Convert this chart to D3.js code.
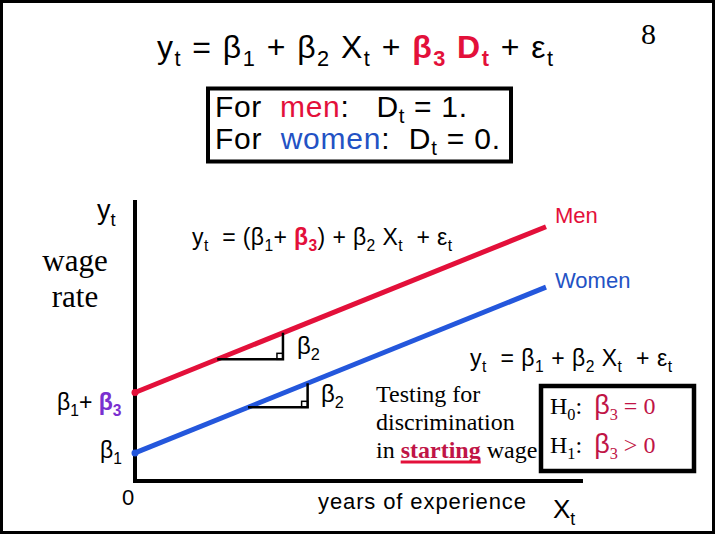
<!DOCTYPE html>
<html><head><meta charset="utf-8">
<script src="https://cdn.jsdelivr.net/npm/d3@7"></script>
<style>html,body{margin:0;padding:0;background:#fff;} svg{display:block;}</style>
</head><body>
<script>
// ---- data ----
const experience = [0, 10];            // X (years of experience) at the ends of the lines
const menWage = [3.15, 9.05];          // y at X=0 is β1+β3
const womenWage = [1.0, 6.9];          // y at X=0 is β1
const slopeMarks = [                   // slope triangles (β2)
  {series: "men", x0: 2.0, x1: 3.6},
  {series: "women", x0: 2.75, x1: 4.2}
];
const xDomain = [0, 10];
const yDomain = [0, 10];
const xAxisEnd = 10.9;
const yAxisEnd = 10;

const W = 720, H = 540;
const svg = d3.select("body").append("svg").attr("width", W).attr("height", H);
const x = d3.scaleLinear().domain(xDomain).range([135, 546]);
const y = d3.scaleLinear().domain(yDomain).range([481, 200]);

const SANS = "'Liberation Sans', Arial, sans-serif";
const SERIF = "'Liberation Serif', 'Times New Roman', serif";
const RED = "#e3103a", BLUE = "#2457dc", DARKRED = "#c01446", PURPLE = "#7a30d0", TBLUE = "#2352c4";

svg.append("rect").attr("x", 1.5).attr("y", 1.5).attr("width", 712).attr("height", 531)
  .attr("fill", "#fff").attr("stroke", "#000").attr("stroke-width", 3);

function rich(x0, y0, parts, base) {
  const t = svg.append("text").attr("x", x0).attr("y", y0)
    .attr("font-family", base.family).attr("font-size", base.size)
    .attr("fill", base.fill || "#000").attr("text-anchor", base.anchor || "start")
    .attr("xml:space", "preserve").style("white-space", "pre");
  let shift = 0;
  parts.forEach(p => {
    const o = typeof p === "string" ? {t: p} : p;
    const size = o.sub ? (o.subSize || base.size * 0.68) : (o.size || base.size);
    const target = o.sub ? base.size * (base.subShift || 0.25) : 0;
    const ts = t.append("tspan").text(o.t).attr("font-size", size);
    if (target !== shift) { ts.attr("dy", target - shift); shift = target; }
    if (o.fill) ts.attr("fill", o.fill);
    if (o.bold) ts.attr("font-weight", "bold");
    if (o.family) ts.attr("font-family", o.family);
  });
  if (base.length) t.attr("textLength", base.length).attr("lengthAdjust", "spacing");
  return t;
}

// ---- title ----
rich(157, 58, ["y", {t: "t", sub: true}, " = β", {t: "1", sub: true}, " + β", {t: "2", sub: true}, " X", {t: "t", sub: true}, " + ",
  {t: "β", bold: true, fill: RED}, {t: "3", sub: true, bold: true, fill: RED}, {t: " D", bold: true, fill: RED},
  {t: "t", sub: true, bold: true, fill: RED}, " + ε", {t: "t", sub: true}], {family: SANS, size: 32, length: 396});
svg.append("text").attr("x", 641).attr("y", 44).attr("font-family", SERIF).attr("font-size", 30).text("8");

// ---- dummy box ----
svg.append("rect").attr("x", 208).attr("y", 88.5).attr("width", 303).attr("height", 73)
  .attr("fill", "none").attr("stroke", "#000").attr("stroke-width", 4);
rich(215, 117, ["For  ", {t: "men", fill: RED}, ":   D", {t: "t", sub: true}, " = 1."], {family: SANS, size: 30, subShift: 0.2, length: 252});
rich(215, 149, ["For  ", {t: "women", fill: TBLUE}, ":  D", {t: "t", sub: true}, " = 0."], {family: SANS, size: 30, subShift: 0.2, length: 285});

// ---- axes ----
svg.append("line").attr("x1", x(0)).attr("x2", x(0)).attr("y1", y(0) + 2).attr("y2", y(yAxisEnd))
  .attr("stroke", "#000").attr("stroke-width", 4);
svg.append("line").attr("x1", x(0)).attr("x2", x(xAxisEnd)).attr("y1", y(0)).attr("y2", y(0))
  .attr("stroke", "#000").attr("stroke-width", 4);

rich(97, 219, ["y", {t: "t", sub: true}], {family: SANS, size: 27});
svg.append("text").attr("x", 75).attr("y", 271).attr("text-anchor", "middle").attr("font-family", SERIF).attr("font-size", 31).text("wage");
svg.append("text").attr("x", 75).attr("y", 307).attr("text-anchor", "middle").attr("font-family", SERIF).attr("font-size", 31).text("rate");
rich(57, 410, ["β", {t: "1", sub: true}, "+ ", {t: "β", bold: true, fill: PURPLE}, {t: "3", sub: true, bold: true, fill: PURPLE}], {family: SANS, size: 23});
rich(100, 458, ["β", {t: "1", sub: true}], {family: SANS, size: 23});
svg.append("text").attr("x", 122).attr("y", 505).attr("font-family", SANS).attr("font-size", 22).text("0");

// ---- lines ----
const series = {men: menWage, women: womenWage};
const colors = {men: RED, women: BLUE};
const line = d3.line().x(d => x(d[0])).y(d => y(d[1]));
Object.keys(series).forEach(k => {
  const pts = experience.map((e, i) => [e, series[k][i]]);
  svg.append("path").attr("d", line(pts)).attr("fill", "none").attr("stroke", colors[k]).attr("stroke-width", 5);
  svg.append("circle").attr("cx", x(pts[0][0])).attr("cy", y(pts[0][1])).attr("r", 3.5).attr("fill", colors[k]);
});
function valueAt(k, xv) {
  const v = series[k];
  return v[0] + (v[1] - v[0]) * (xv - experience[0]) / (experience[1] - experience[0]);
}
slopeMarks.forEach(m => {
  const ya = valueAt(m.series, m.x0), yb = valueAt(m.series, m.x1);
  svg.append("path")
    .attr("d", `M${x(m.x0)},${y(ya)}H${x(m.x1)}V${y(yb)}`)
    .attr("fill", "none").attr("stroke", "#000").attr("stroke-width", 2.5);
  svg.append("rect").attr("x", x(m.x1) - 6).attr("y", y(ya) - 6).attr("width", 6).attr("height", 6)
    .attr("fill", "none").attr("stroke", "#000").attr("stroke-width", 1.5);
});
rich(297, 354, ["β", {t: "2", sub: true}], {family: SANS, size: 24});
rich(321, 402, ["β", {t: "2", sub: true}], {family: SANS, size: 24});

// ---- labels ----
rich(192, 245, ["y", {t: "t", sub: true}, "  = (β", {t: "1", sub: true}, "+ ", {t: "β", bold: true, fill: RED}, {t: "3", sub: true, bold: true, fill: RED},
  ") + β", {t: "2", sub: true}, " X", {t: "t", sub: true}, "  + ε", {t: "t", sub: true}], {family: SANS, size: 23, length: 260});
svg.append("text").attr("x", 555).attr("y", 223).attr("font-family", SANS).attr("font-size", 22).attr("fill", RED).text("Men");
svg.append("text").attr("x", 555).attr("y", 288).attr("font-family", SANS).attr("font-size", 22).attr("fill", TBLUE).text("Women");

rich(470, 366, ["y", {t: "t", sub: true}, "  = β", {t: "1", sub: true}, " + β", {t: "2", sub: true}, " X", {t: "t", sub: true}, "  + ε", {t: "t", sub: true}], {family: SANS, size: 23, length: 202});

// ---- testing text ----
svg.append("text").attr("x", 376).attr("y", 402).attr("font-family", SERIF).attr("font-size", 24).text("Testing for");
svg.append("text").attr("x", 376).attr("y", 430).attr("font-family", SERIF).attr("font-size", 24).text("discrimination");
const tIn = svg.append("text").attr("x", 376).attr("y", 458).attr("font-family", SERIF).attr("font-size", 24)
  .style("white-space", "pre").text("in ");
const inW = tIn.node().getComputedTextLength();
const tSt = svg.append("text").attr("x", 376 + inW).attr("y", 458).attr("font-family", SERIF).attr("font-size", 24)
  .attr("font-weight", "bold").attr("fill", DARKRED).text("starting");
const stW = tSt.node().getComputedTextLength();
svg.append("line").attr("x1", 376 + inW).attr("x2", 376 + inW + stW).attr("y1", 462).attr("y2", 462)
  .attr("stroke", RED).attr("stroke-width", 3);
svg.append("text").attr("x", 376 + inW + stW).attr("y", 458).attr("font-family", SERIF).attr("font-size", 24)
  .style("white-space", "pre").text(" wage");

svg.append("rect").attr("x", 541).attr("y", 386).attr("width", 153).attr("height", 85)
  .attr("fill", "none").attr("stroke", "#000").attr("stroke-width", 4.5);
rich(550, 414, ["H", {t: "0", sub: true}, ":  ", {t: "β", fill: DARKRED, size: 27, family: SANS}, {t: "3", sub: true, fill: DARKRED}, {t: " = 0", fill: DARKRED}], {family: SERIF, size: 24});
rich(550, 453, ["H", {t: "1", sub: true}, ":  ", {t: "β", fill: DARKRED, size: 27, family: SANS}, {t: "3", sub: true, fill: DARKRED}, {t: " > 0", fill: DARKRED}], {family: SERIF, size: 24});

svg.append("text").attr("x", 318).attr("y", 509).attr("font-family", SANS).attr("font-size", 22)
  .attr("textLength", 208).attr("lengthAdjust", "spacing").text("years of experience");
rich(553, 518, ["X", {t: "t", sub: true}], {family: SANS, size: 26});
</script>
</body></html>
